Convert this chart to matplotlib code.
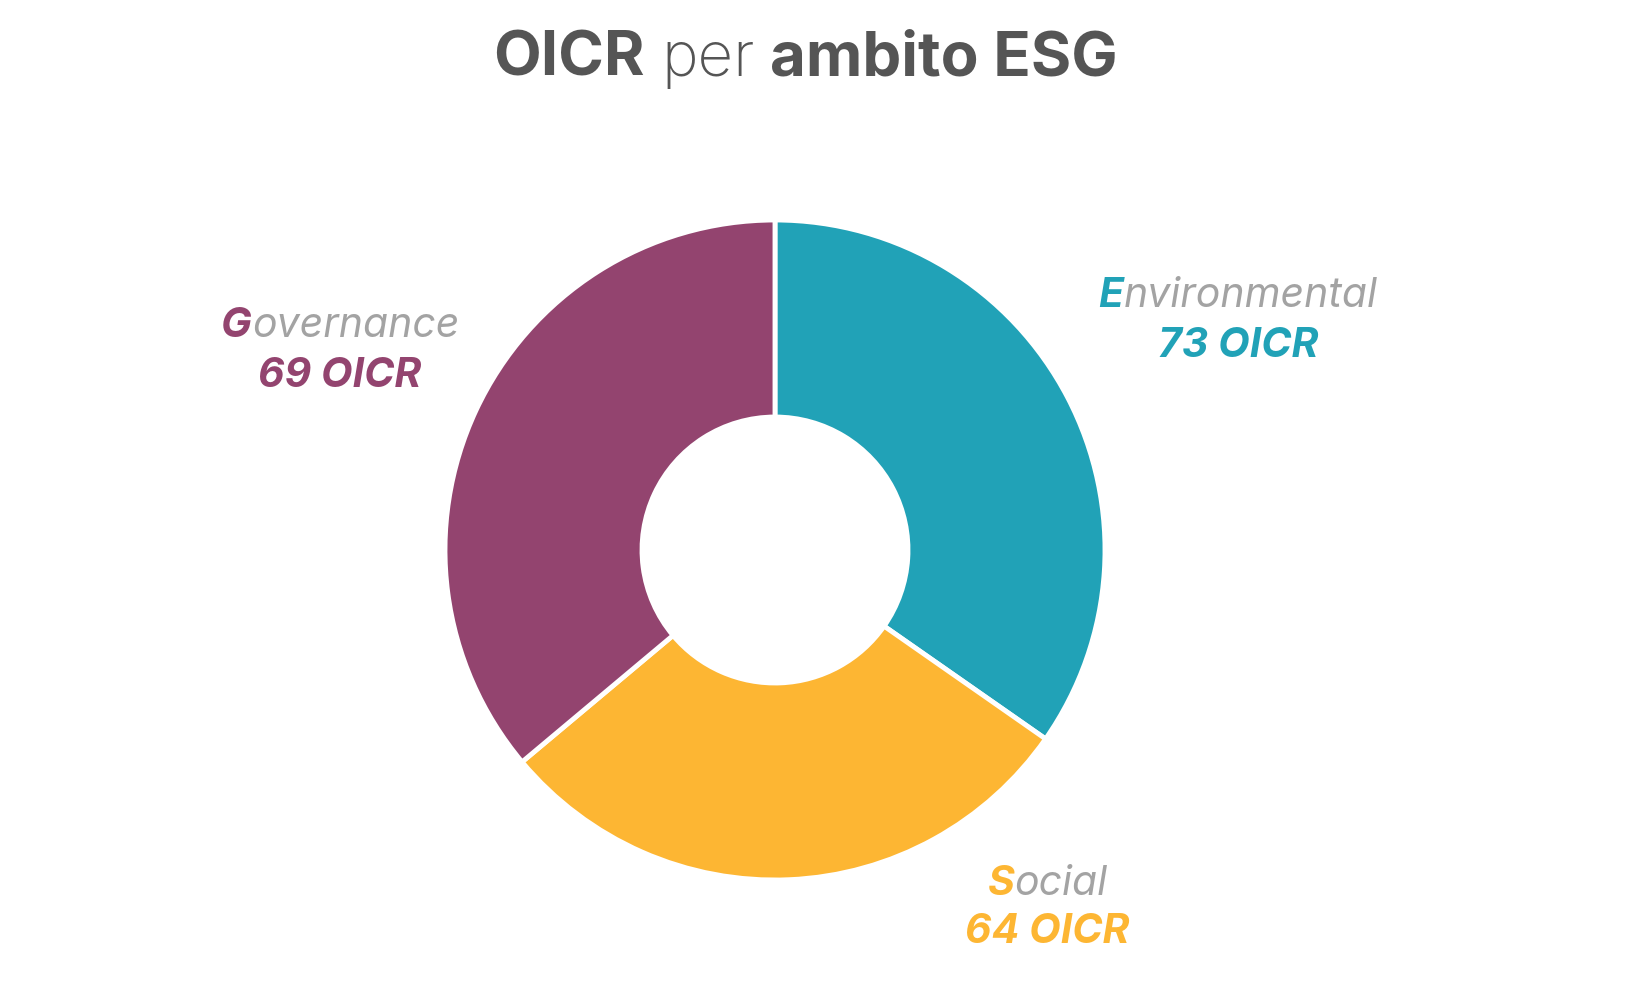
import matplotlib.pyplot as plt
from matplotlib.transforms import IdentityTransform

plt.rcParams['font.family'] = ['Inter', 'DejaVu Sans']

# dati
ambiti = ['Environmental', 'Social', 'Governance']
oicr = [73, 64, 69]
# ampiezza degli spicchi (%)
quota = [34.7, 29.2, 36.1]
colori = ['#21A2B7', '#FDB633', '#93446F']

W, H = 1652, 981
fig = plt.figure(figsize=(W / 100, H / 100), dpi=100)
fig.patch.set_facecolor('white')

# ciambella
cx, cy, R = 775, 550, 330
side = 2 * R * 1.1
ax = fig.add_axes([(cx - side / 2) / W, (H - cy - side / 2) / H, side / W, side / H])
ax.pie(quota, colors=colori, startangle=90, counterclock=False, radius=1,
       wedgeprops=dict(width=0.597, edgecolor='white', linewidth=3.5))
ax.set_xlim(-1.1, 1.1)
ax.set_ylim(-1.1, 1.1)
ax.set_aspect('equal')
ax.axis('off')

renderer = fig.canvas.get_renderer()


def larghezza(s, props):
    t = fig.text(0, 0, s, transform=IdentityTransform(), **props)
    w = t.get_window_extent(renderer).width
    t.remove()
    return w


def scrivi(xc, base, pezzi):
    # pezzi: (testo, props, spazio prima)
    items = []
    x = 0
    for s, props, gap in pezzi:
        if gap:
            x += larghezza('x x', props) - larghezza('xx', props)
        t = fig.text(x, H - base, s, transform=IdentityTransform(),
                     ha='left', va='baseline', **props)
        items.append((t, x))
        x += t.get_window_extent(renderer).width
    for t, off in items:
        t.set_x(xc - x / 2 + off)


grigio = '#A3A3A3'
tit = dict(fontsize=44.5, color='#555555')
scrivi(805, 76, [('OICR', dict(tit, fontweight='bold'), False),
                 ('per', dict(tit, fontweight='light'), True),
                 ('ambito ESG', dict(tit, fontweight='bold'), True)])

fs = 29.5
pos = [(1238, 307, 357), (1047, 895, 943), (340, 337, 387)]
for nome, n, col, (xc, b1, b2) in zip(ambiti, oicr, colori, pos):
    scrivi(xc, b1, [(nome[0], dict(fontsize=fs, color=col, fontweight='bold', style='italic'), False),
                    (nome[1:], dict(fontsize=fs, color=grigio, fontweight='normal', style='italic'), False)])
    scrivi(xc, b2, [(f'{n} OICR', dict(fontsize=fs, color=col, fontweight='bold', style='italic'), False)])

fig.savefig('out.png', dpi=100, facecolor='white')
